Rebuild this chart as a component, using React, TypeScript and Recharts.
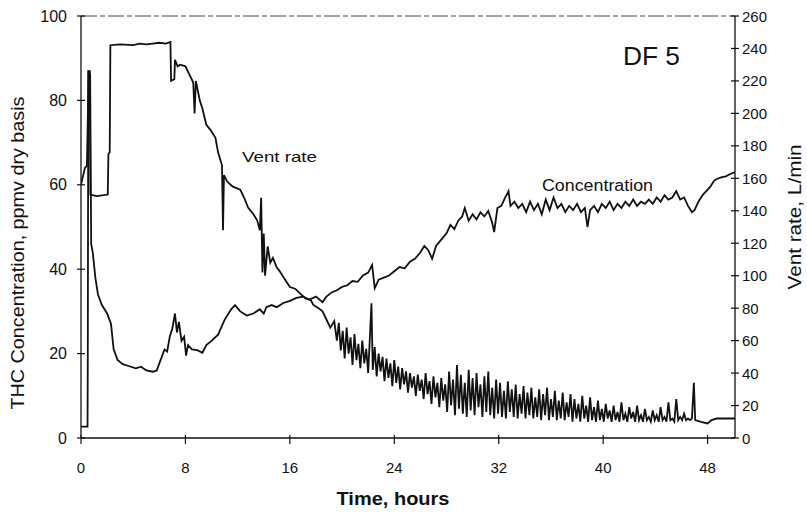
import { LineChart, Line, XAxis, YAxis, ReferenceLine } from "recharts";

const hourTicks = [0, 8, 16, 24, 32, 40, 48];
const concTicks = [0, 20, 40, 60, 80, 100];
const ventTicks = [0, 20, 40, 60, 80, 100, 120, 140, 160, 180, 200, 220, 240, 260];

// [hours, L/min]
const ventRate: [number, number][] = [
  [0, 7], [0.5, 7], [0.52, 50], [0.56, 226], [0.68, 226], [0.72, 150], [1.2, 149], [2.05, 150],
  [2.1, 175], [2.2, 176], [2.25, 242], [3.0, 242.5], [4.0, 242], [4.5, 243], [5.0, 242.5],
  [5.5, 243], [6.0, 243.5], [6.5, 243], [6.85, 244], [6.9, 220], [7.15, 221], [7.2, 233],
  [7.4, 229], [7.6, 230], [8.0, 229], [8.3, 224], [8.6, 219], [8.7, 200], [8.8, 220],
  [9.1, 208], [9.3, 203], [9.6, 193], [9.9, 190], [10.3, 185], [10.5, 176], [10.8, 168],
  [10.88, 128], [10.95, 162], [11.2, 158], [11.6, 155], [12.2, 153], [12.5, 148], [12.8, 142],
  [13.2, 138], [13.5, 134], [13.7, 128], [13.8, 148], [13.9, 102], [14.0, 126], [14.1, 100],
  [14.3, 118], [14.5, 108], [14.7, 111], [15.0, 105], [15.2, 103], [15.6, 98], [16.0, 93],
  [16.4, 92], [16.8, 89], [17.2, 86], [17.6, 85], [17.8, 82], [18.2, 80], [18.5, 78],
  [18.8, 73], [19.1, 68], [19.4, 72],
  [19.6, 60], [19.75, 71], [19.9, 54], [20.05, 66], [20.2, 49], [20.35, 68], [20.5, 52],
  [20.65, 62], [20.8, 45], [20.95, 64], [21.1, 48], [21.25, 58], [21.4, 43], [21.55, 60],
  [21.7, 46], [21.85, 55], [22.0, 40], [22.1, 57], [22.25, 83], [22.35, 42], [22.5, 56],
  [22.65, 38], [22.8, 52], [22.95, 41], [23.1, 50], [23.25, 35], [23.4, 49], [23.55, 37],
  [23.7, 46], [23.85, 32], [24.0, 48], [24.15, 34], [24.3, 44], [24.45, 30], [24.6, 43],
  [24.75, 33], [24.9, 41], [25.05, 28], [25.2, 40], [25.35, 31], [25.5, 38], [25.65, 26],
  [25.8, 39], [25.95, 29], [26.1, 36], [26.25, 24], [26.4, 40], [26.55, 27], [26.7, 35],
  [26.85, 21], [27.0, 38], [27.15, 25], [27.3, 34], [27.45, 19], [27.6, 37], [27.75, 23],
  [27.9, 33], [28.05, 16], [28.2, 41], [28.35, 20], [28.5, 36], [28.65, 14], [28.8, 45],
  [28.95, 18], [29.1, 39], [29.25, 15], [29.4, 34], [29.55, 13], [29.7, 42], [29.85, 17],
  [30.0, 37], [30.15, 14], [30.3, 40], [30.45, 19], [30.6, 33], [30.75, 13], [30.9, 38],
  [31.05, 16], [31.2, 41], [31.35, 14], [31.5, 31], [31.65, 12], [31.8, 36], [31.95, 15],
  [32.1, 34], [32.25, 13], [32.4, 29], [32.55, 12], [32.7, 35], [32.85, 16], [33.0, 30],
  [33.15, 13], [33.3, 33], [33.45, 12], [33.6, 27], [33.75, 15], [33.9, 32], [34.05, 12],
  [34.2, 28], [34.35, 14], [34.5, 31], [34.65, 12], [34.8, 25], [34.95, 13], [35.1, 30],
  [35.25, 11], [35.4, 27], [35.55, 14], [35.7, 31], [35.85, 11], [36.0, 24], [36.15, 13],
  [36.3, 29], [36.45, 11], [36.6, 23], [36.75, 12], [36.9, 28], [37.05, 11], [37.2, 22],
  [37.35, 13], [37.5, 27], [37.65, 10], [37.8, 24], [37.95, 12], [38.1, 21], [38.25, 10],
  [38.4, 26], [38.55, 12], [38.7, 20], [38.85, 10], [39.0, 25], [39.15, 11], [39.3, 19],
  [39.45, 10], [39.6, 23], [39.75, 11], [39.9, 18], [40.05, 10], [40.2, 21], [40.35, 12],
  [40.5, 17], [40.65, 10], [40.8, 20], [40.95, 11], [41.1, 16], [41.25, 10], [41.4, 22],
  [41.55, 11], [41.7, 15], [41.85, 10], [42.0, 19], [42.15, 12], [42.3, 16], [42.45, 10],
  [42.6, 20], [42.75, 11], [42.9, 14], [43.05, 10], [43.2, 18], [43.35, 11], [43.5, 13],
  [43.65, 10], [43.8, 17], [43.95, 11], [44.1, 14], [44.25, 10], [44.4, 19], [44.55, 11],
  [44.7, 13], [44.85, 10], [45.0, 22], [45.15, 11], [45.3, 12], [45.45, 10], [45.6, 24],
  [45.75, 11], [45.9, 13], [46.05, 11], [46.2, 15], [46.35, 11], [46.5, 12], [46.65, 11],
  [46.8, 12], [46.95, 34], [47.05, 11], [47.5, 10], [48.0, 9], [48.3, 11], [48.7, 12],
  [50.1, 12],
];

// [hours, ppmv dry basis]
const concentration: [number, number][] = [
  [0, 60], [0.3, 64], [0.45, 64.5], [0.5, 72], [0.58, 87], [0.7, 86], [0.78, 46], [0.9, 44],
  [1.1, 38], [1.3, 34], [1.6, 31.5], [2.0, 29.5], [2.3, 27], [2.5, 21], [2.8, 18.5],
  [3.2, 17.5], [3.7, 17], [4.2, 16.5], [4.6, 16.9], [5.0, 16], [5.5, 15.7], [5.8, 16],
  [6.1, 18.5], [6.4, 21], [6.6, 20.5], [6.8, 24], [7.0, 26], [7.2, 29.5], [7.35, 25],
  [7.5, 27.5], [7.7, 23], [7.9, 24], [8.05, 19.5], [8.2, 22], [8.5, 21], [8.9, 20.8],
  [9.3, 20.2], [9.6, 22], [10.0, 23], [10.5, 24.5], [11.0, 28], [11.5, 30.5], [11.8, 31.5],
  [12.2, 30], [12.7, 29], [13.2, 29.5], [13.7, 30.5], [14.0, 29.5], [14.2, 31], [14.6, 31.5],
  [15.0, 31], [15.5, 32], [16.0, 32.5], [16.5, 33.2], [17.0, 33.5], [17.5, 32.8], [18.0, 33.5],
  [18.5, 32.2], [18.8, 33.5], [19.2, 34.5], [19.6, 35], [20.0, 35.8], [20.4, 36.2],
  [20.8, 37.2], [21.2, 37], [21.6, 38.5], [22.0, 39.2], [22.3, 41], [22.5, 35.5], [22.8, 37.5],
  [23.2, 38], [23.6, 38.5], [24.0, 39.5], [24.4, 40.5], [24.8, 40.2], [25.2, 41.8],
  [25.6, 42.5], [26.0, 44], [26.3, 45.5], [26.6, 44.5], [26.9, 42.5], [27.2, 45.5], [27.6, 47],
  [28.0, 48.5], [28.3, 50.5], [28.6, 49.5], [28.9, 51.5], [29.2, 52.5], [29.4, 54.5],
  [29.7, 51.5], [30.0, 53], [30.3, 51.8], [30.6, 53.5], [30.9, 52.5], [31.2, 53.8], [31.5, 51],
  [31.65, 48.8], [31.9, 54.5], [32.2, 55], [32.5, 57], [32.75, 58.5], [32.9, 55], [33.2, 56],
  [33.5, 54.5], [33.8, 55.5], [34.1, 53.5], [34.4, 56], [34.7, 54], [35.0, 55.5], [35.3, 53],
  [35.6, 56.5], [35.9, 54], [36.2, 57], [36.5, 54.5], [36.8, 55.5], [37.1, 53.5], [37.4, 55],
  [37.7, 54], [38.0, 55.5], [38.3, 53.5], [38.6, 54.5], [38.8, 50], [39.0, 54], [39.3, 55],
  [39.6, 53.5], [39.9, 55.5], [40.2, 54.5], [40.5, 56], [40.8, 54], [41.1, 55.5], [41.4, 54.5],
  [41.7, 56], [42.0, 55], [42.3, 56.5], [42.6, 55], [42.9, 56], [43.2, 55.5], [43.5, 56.5],
  [43.8, 55.5], [44.1, 57], [44.4, 56], [44.7, 57.5], [45.0, 56.5], [45.3, 57], [45.6, 58.5],
  [45.9, 56.5], [46.2, 57], [46.5, 55], [46.8, 53.5], [47.0, 54], [47.3, 56], [47.6, 57.5],
  [47.9, 58.5], [48.2, 59.5], [48.5, 61], [48.8, 61.5], [49.1, 61.8], [49.4, 62], [49.7, 62.5],
  [50.1, 63],
];

const ventData = ventRate.map(([t, v]) => ({ t, v }));
const concData = concentration.map(([t, v]) => ({ t, v }));

const FONT = "'Liberation Sans', Arial, sans-serif";
const INK = "#111";

// label x arrives at axis - tickSize - tickMargin, so the mark is drawn back across the axis
function LeftTick({ x, y, payload }: any) {
  return (
    <g>
      <line x1={x + 10} x2={x + 18} y1={y} y2={y} stroke={INK} strokeWidth={1.2} />
      <text x={x} y={y + 5.5} textAnchor="end" fontSize={16} fontFamily={FONT} fill={INK}>
        {payload.value}
      </text>
    </g>
  );
}

function RightTick({ x, y, payload }: any) {
  return (
    <g>
      <line x1={x - 11} x2={x - 3} y1={y} y2={y} stroke={INK} strokeWidth={1.2} />
      <text x={x} y={y + 5.5} textAnchor="start" fontSize={15} fontFamily={FONT} fill={INK}>
        {payload.value}
      </text>
    </g>
  );
}

function BottomTick({ x, y, payload }: any) {
  return (
    <g>
      <line x1={x} x2={x} y1={y - 17} y2={y - 8} stroke={INK} strokeWidth={1.2} />
      <text x={x} y={y + 21} textAnchor="middle" fontSize={15} fontFamily={FONT} fill={INK}>
        {payload.value}
      </text>
    </g>
  );
}

export default function App() {
  return (
    <div style={{ position: "absolute", left: 0, top: 0, width: 807, height: 512, background: "#fff" }}>
      <LineChart width={807} height={512} margin={{ top: 16, right: 22, bottom: 44, left: 21 }}>
        <XAxis
          type="number"
          dataKey="t"
          domain={[0, 50.1]}
          ticks={hourTicks}
          height={30}
          tickSize={4}
          tickMargin={10}
          tickLine={false}
          tick={<BottomTick />}
          axisLine={{ stroke: INK, strokeWidth: 1.3 }}
          allowDataOverflow
        />
        <YAxis
          yAxisId="left"
          domain={[0, 100]}
          ticks={concTicks}
          width={60}
          tickSize={4}
          tickMargin={10}
          tickLine={false}
          tick={<LeftTick />}
          axisLine={{ stroke: INK, strokeWidth: 1.3 }}
        />
        <YAxis
          yAxisId="right"
          orientation="right"
          domain={[0, 260]}
          ticks={ventTicks}
          width={50}
          tickSize={4}
          tickMargin={3}
          tickLine={false}
          tick={<RightTick />}
          axisLine={{ stroke: INK, strokeWidth: 1.3 }}
        />
        <ReferenceLine yAxisId="left" y={100} stroke="#444" strokeWidth={1} strokeDasharray="16 3 5 3" />
        <Line
          yAxisId="right"
          data={ventData}
          dataKey="v"
          type="linear"
          stroke={INK}
          strokeWidth={1.8}
          dot={false}
          isAnimationActive={false}
        />
        <Line
          yAxisId="left"
          data={concData}
          dataKey="v"
          type="linear"
          stroke={INK}
          strokeWidth={1.8}
          dot={false}
          isAnimationActive={false}
        />
      </LineChart>
      <svg
        width={807}
        height={512}
        style={{ position: "absolute", left: 0, top: 0, pointerEvents: "none" }}
        fontFamily={FONT}
        fill={INK}
      >
        <text
          transform="translate(24,253) rotate(-90)"
          textAnchor="middle"
          fontSize={18}
          textLength={313}
          lengthAdjust="spacingAndGlyphs"
        >
          THC Concentration, ppmv dry basis
        </text>
        <text
          transform="translate(801,217) rotate(-90)"
          textAnchor="middle"
          fontSize={18}
          textLength={145}
          lengthAdjust="spacingAndGlyphs"
        >
          Vent rate, L/min
        </text>
        <text x={393} y={505} textAnchor="middle" fontSize={18} fontWeight="bold" textLength={113} lengthAdjust="spacingAndGlyphs">
          Time, hours
        </text>
        <text x={623} y={65} fontSize={26} textLength={57} lengthAdjust="spacingAndGlyphs">
          DF 5
        </text>
        <text x={242} y={162} fontSize={15} textLength={75} lengthAdjust="spacingAndGlyphs">
          Vent rate
        </text>
        <text x={542} y={191} fontSize={16} textLength={111} lengthAdjust="spacingAndGlyphs">
          Concentration
        </text>
      </svg>
    </div>
  );
}
